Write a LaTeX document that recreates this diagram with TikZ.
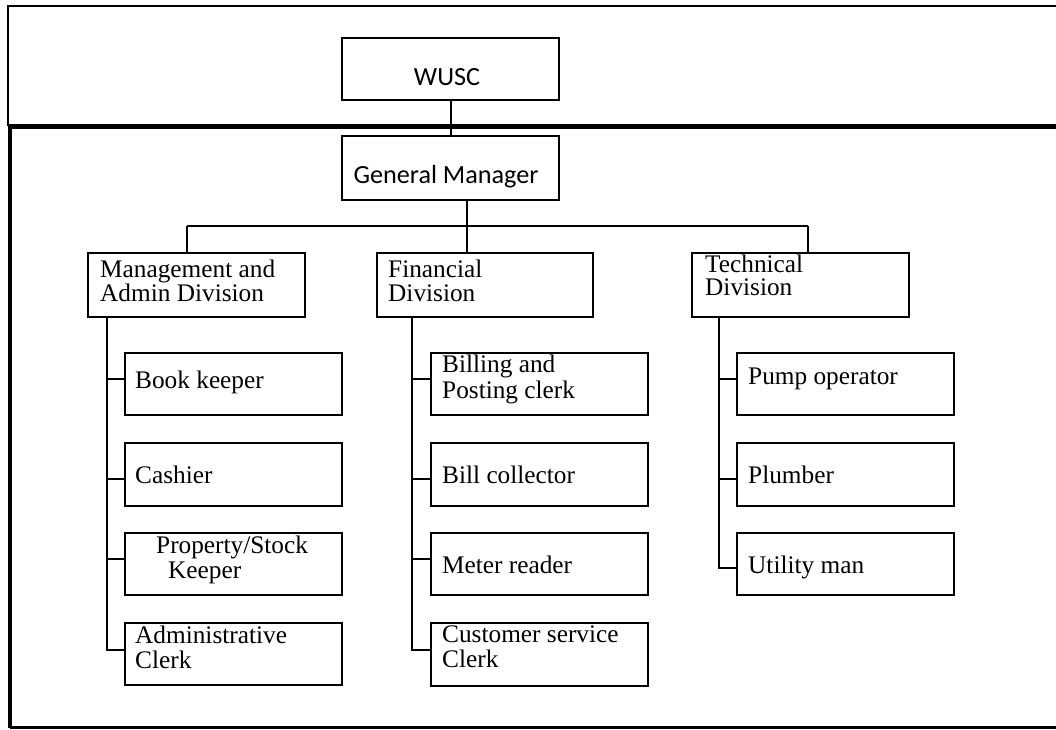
\documentclass[tikz,border=0pt]{standalone}
\usepackage{fontspec}
\setmainfont{Liberation Serif}
\newfontfamily\calib{Carlito}
\begin{document}
\begin{tikzpicture}[x=1pt,y=-1pt,
  box/.style={draw,line width=2.2pt,rectangle,inner sep=0pt,anchor=north west,
    minimum width=217pt,minimum height=#1},
  box/.default=62pt,
  lbl/.style={inner sep=0pt,anchor=base west,font=\fontsize{25.3}{24}\selectfont},
  slbl/.style={inner sep=0pt,anchor=base,font=\calib\fontsize{26.2}{26}\selectfont},
  conn/.style={line width=2.2pt}]
\useasboundingbox (0,0) rectangle (1056,729);
% frame
\draw[line width=2.2pt] (1056,6) -- (7.6,6) -- (7.6,126);
\draw[line width=4.8pt] (1056,126.7) -- (10,126.7) -- (10,727.6);
\draw[line width=2.4pt] (10,727.4) -- (1056,727.4);
% top boxes
\node[box=62pt] (wusc) at (341,37) {};
\node[slbl] (wusct) at ([shift={(106,48)}]wusc.north west) {WUSC};
\node[box=64pt] (gm) at (341,135) {};
\node[slbl] (gmt) at ([shift={(105,48)}]gm.north west) {General Manager};
% divisions
\node[box=64pt] (mgmt) at (87,252) {};
\node[lbl] (mgmt1) at ([shift={(13,25)}]mgmt.north west) {Management and};
\node[lbl] (mgmt2) at ([shift={(13,49)}]mgmt.north west) {Admin Division};
\node[box=64pt,minimum width=216pt] (fin) at (376,252) {};
\node[lbl] (fin1) at ([shift={(12,25)}]fin.north west) {Financial};
\node[lbl] (fin2) at ([shift={(12,49)}]fin.north west) {Division};
\node[box=64pt] (tech) at (691,252) {};
\node[lbl] (tech1) at ([shift={(14,20)}]tech.north west) {Technical};
\node[lbl] (tech2) at ([shift={(14,43)}]tech.north west) {Division};
% management children
\node[box] (bk) at (124,352) {};
\node[lbl] (bkt) at ([shift={(11,36)}]bk.north west) {Book keeper};
\node[box=63pt] (cash) at (124,442) {};
\node[lbl] (casht) at ([shift={(11,41)}]cash.north west) {Cashier};
\node[box] (prop) at (124,532) {};
\node[lbl] (prop1) at ([shift={(32,21)}]prop.north west) {Property/Stock};
\node[lbl] (prop2) at ([shift={(44,46)}]prop.north west) {Keeper};
\node[box] (adm) at (124,622) {};
\node[lbl] (adm1) at ([shift={(11,21)}]adm.north west) {Administrative};
\node[lbl] (adm2) at ([shift={(11,46)}]adm.north west) {Clerk};
% financial children
\node[box] (bill) at (430,352) {};
\node[lbl] (bill1) at ([shift={(12,20)}]bill.north west) {Billing and};
\node[lbl] (bill2) at ([shift={(12,46)}]bill.north west) {Posting clerk};
\node[box=63pt] (coll) at (430,442) {};
\node[lbl] (collt) at ([shift={(12,41)}]coll.north west) {Bill collector};
\node[box] (meter) at (430,532) {};
\node[lbl] (metert) at ([shift={(12,41)}]meter.north west) {Meter reader};
\node[box=63pt] (cust) at (430,622) {};
\node[lbl] (cust1) at ([shift={(12,20)}]cust.north west) {Customer service};
\node[lbl] (cust2) at ([shift={(12,45)}]cust.north west) {Clerk};
% technical children
\node[box] (pump) at (736,352) {};
\node[lbl] (pumpt) at ([shift={(12,32)}]pump.north west) {Pump operator};
\node[box=63pt] (plum) at (736,442) {};
\node[lbl] (plumt) at ([shift={(12,41)}]plum.north west) {Plumber};
\node[box] (util) at (736,532) {};
\node[lbl] (utilt) at ([shift={(12,41)}]util.north west) {Utility man};
% connectors
\draw[conn] (wusc) -- (gm);
\coordinate (busL) at (187,226);
\coordinate (busM) at (467,226);
\coordinate (busR) at (808,226);
\draw[conn] (gm.south -| busM) -- (busM);
\draw[conn] (busL) -- (busR);
\draw[conn] (busL) -- (busL |- mgmt.north);
\draw[conn] (busM) -- (busM |- fin.north);
\draw[conn] (busR) -- (busR |- tech.north);
\coordinate (ms) at ([xshift=20pt]mgmt.south west);
\coordinate (fs) at ([xshift=36pt]fin.south west);
\coordinate (ts) at ([xshift=28pt]tech.south west);
\draw[conn] (ms) |- ([yshift=4.5pt]adm.west);
\draw[conn] (ms |- bk.west) ++(0,-5) coordinate (tbk) (tbk) -- (tbk -| bk.west);
\draw[conn] (ms |- cash.west) ++(0,4.5) coordinate (tca) (tca) -- (tca -| cash.west);
\draw[conn] (ms |- prop.west) ++(0,-5) coordinate (tpr) (tpr) -- (tpr -| prop.west);
\draw[conn] (fs) |- ([yshift=4.5pt]cust.west);
\draw[conn] (fs |- bill.west) ++(0,-5) coordinate (tbi) (tbi) -- (tbi -| bill.west);
\draw[conn] (fs |- coll.west) ++(0,4.5) coordinate (tco) (tco) -- (tco -| coll.west);
\draw[conn] (fs |- meter.west) ++(0,-5) coordinate (tme) (tme) -- (tme -| meter.west);
\draw[conn] (ts) |- ([yshift=-4pt]util.west);
\draw[conn] (ts |- pump.west) ++(0,-5) coordinate (tpu) (tpu) -- (tpu -| pump.west);
\draw[conn] (ts |- plum.west) ++(0,4.5) coordinate (tpl) (tpl) -- (tpl -| plum.west);
\end{tikzpicture}
\end{document}
